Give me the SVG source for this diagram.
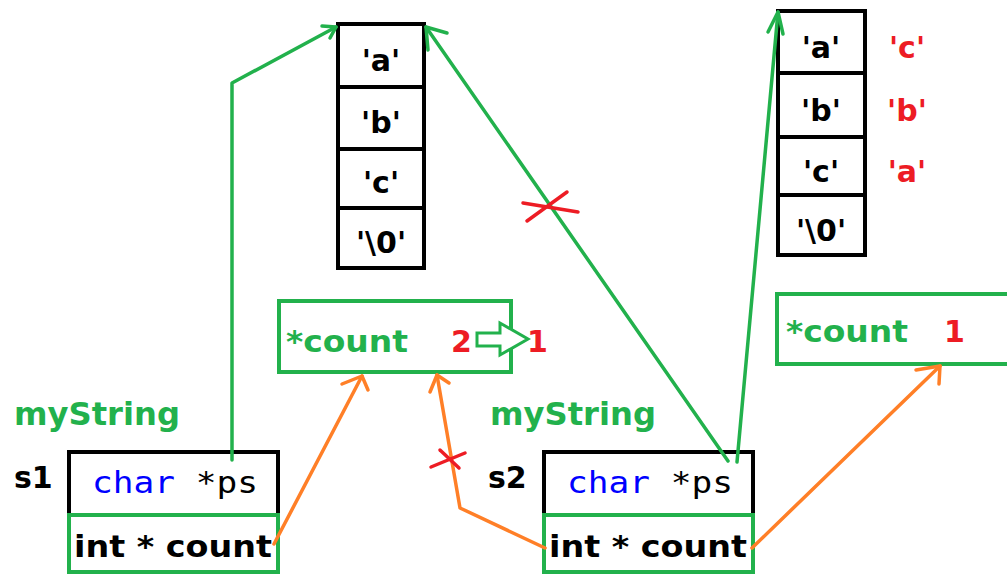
<svg xmlns="http://www.w3.org/2000/svg" width="1007" height="575" viewBox="0 0 1007 575">
<style>
.bk{fill:none;stroke:#000;stroke-width:4}
.gbox{fill:none;stroke:#22b14c;stroke-width:4}
.t{font-family:"DejaVu Sans",sans-serif;font-weight:bold}
.arr{font-family:"DejaVu Sans",sans-serif;font-weight:bold;font-size:30px;text-anchor:middle;fill:#000}
.red{fill:#ed1c24}
.grn{fill:#22b14c}
.mono{font-family:"DejaVu Sans Mono",monospace;font-size:30px}
.gl{fill:none;stroke:#22b14c;stroke-width:3.5;stroke-linejoin:round;stroke-linecap:round}
.ol{fill:none;stroke:#ff7f27;stroke-width:3.5;stroke-linejoin:round;stroke-linecap:round}
.rx{fill:none;stroke:#ed1c24;stroke-width:3.5;stroke-linecap:round}
</style>
<rect width="1007" height="575" fill="#fff"/>
<g id="array1">
<rect class="bk" x="338" y="24" width="86" height="244"/>
<line class="bk" x1="338" y1="87" x2="424" y2="87"/>
<line class="bk" x1="338" y1="149" x2="424" y2="149"/>
<line class="bk" x1="338" y1="208" x2="424" y2="208"/>
<text class="arr" x="381" y="71">'a'</text>
<text class="arr" x="381" y="133">'b'</text>
<text class="arr" x="381" y="193">'c'</text>
<text class="arr" x="381" y="253">'\0'</text>
</g>
<g id="array2">
<rect class="bk" x="778" y="11" width="87" height="244"/>
<line class="bk" x1="778" y1="73" x2="865" y2="73"/>
<line class="bk" x1="778" y1="137" x2="865" y2="137"/>
<line class="bk" x1="778" y1="195" x2="865" y2="195"/>
<text class="arr" x="821" y="58">'a'</text>
<text class="arr" x="821" y="121">'b'</text>
<text class="arr" x="821" y="182">'c'</text>
<text class="arr" x="821" y="241">'\0'</text>
<text class="arr red" x="907" y="58">'c'</text>
<text class="arr red" x="907" y="121">'b'</text>
<text class="arr red" x="907" y="182">'a'</text>
</g>
<g id="count1">
<rect class="gbox" x="279" y="301" width="232" height="71"/>
<text class="t grn" x="286" y="352" font-size="30" textLength="122" lengthAdjust="spacingAndGlyphs">*count</text>
<text class="t red" x="451" y="352" font-size="30">2</text>
<path d="M477,333 H500 V323 L528,339 L500,355 V346 H477 Z" fill="#fff" stroke="#22b14c" stroke-width="3"/>
<text class="t red" x="527" y="352" font-size="30">1</text>
</g>
<g id="count2">
<path class="gbox" d="M1010,294 H777 V364 H1010"/>
<text class="t grn" x="786" y="342" font-size="30" textLength="122" lengthAdjust="spacingAndGlyphs">*count</text>
<text class="t red" x="944" y="342" font-size="30">1</text>
</g>
<g id="s1">
<text class="t grn" x="14" y="425" font-size="32" textLength="166" lengthAdjust="spacingAndGlyphs">myString</text>
<text class="t" x="14" y="488" font-size="30" fill="#000">s1</text>
<rect class="bk" x="69" y="452" width="209" height="63"/>
<rect class="gbox" x="69" y="515" width="209" height="57"/>
<text class="mono" x="92" y="493" textLength="166" lengthAdjust="spacingAndGlyphs"><tspan fill="#0000ff">char</tspan><tspan fill="#000"> *ps</tspan></text>
<text class="t" x="74" y="557" font-size="30" fill="#000" textLength="198" lengthAdjust="spacingAndGlyphs">int * count</text>
</g>
<g id="s2">
<text class="t grn" x="490" y="425" font-size="32" textLength="166" lengthAdjust="spacingAndGlyphs">myString</text>
<text class="t" x="488" y="488" font-size="30" fill="#000">s2</text>
<rect class="bk" x="544" y="452" width="209" height="63"/>
<rect class="gbox" x="544" y="515" width="209" height="57"/>
<text class="mono" x="567" y="493" textLength="166" lengthAdjust="spacingAndGlyphs"><tspan fill="#0000ff">char</tspan><tspan fill="#000"> *ps</tspan></text>
<text class="t" x="549" y="557" font-size="30" fill="#000" textLength="198" lengthAdjust="spacingAndGlyphs">int * count</text>
</g>
<g id="connectors">
<polyline class="gl" points="232,460 232,83 336,27"/>
<polyline class="gl" points="322,26 336,27 330,38"/>
<line class="gl" x1="728" y1="461" x2="426" y2="27"/>
<polyline class="gl" points="447,33 426,27 428,50"/>
<line class="gl" x1="737" y1="462" x2="778" y2="12"/>
<polyline class="gl" points="768,32 778,12 783,34"/>
<line class="ol" x1="274" y1="544" x2="362" y2="376"/>
<polyline class="ol" points="342,384 362,376 368,390"/>
<polyline class="ol" points="545,548 460,508 437,375"/>
<polyline class="ol" points="430,392 437,375 449,383"/>
<line class="ol" x1="752" y1="548" x2="940" y2="366"/>
<polyline class="ol" points="916,370 940,366 939,384"/>
<line class="rx" x1="523" y1="203" x2="578" y2="212"/>
<line class="rx" x1="527" y1="221" x2="567" y2="192"/>
<line class="rx" x1="431" y1="467" x2="465" y2="453"/>
<line class="rx" x1="440" y1="450" x2="459" y2="468"/>
</g>
</svg>
